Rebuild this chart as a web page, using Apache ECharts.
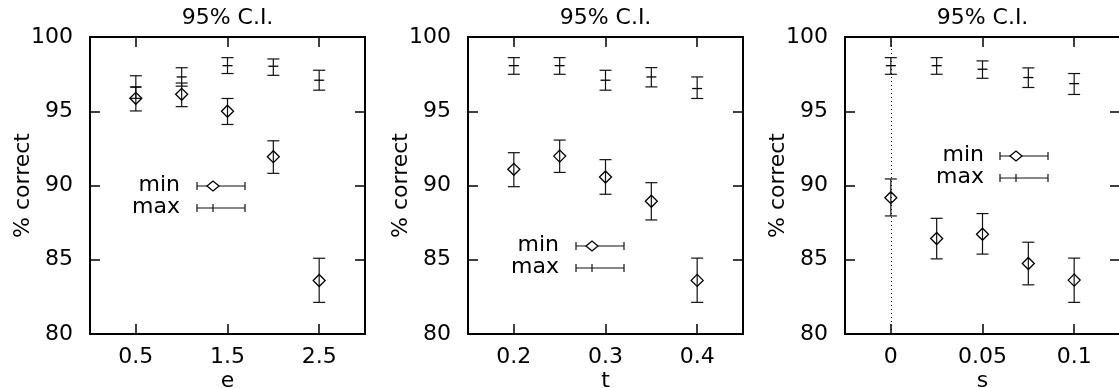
<!DOCTYPE html>
<html>
<head>
<meta charset="utf-8">
<script src="https://cdn.jsdelivr.net/npm/echarts@6/dist/echarts.min.js"></script>
<style>
html,body{margin:0;padding:0;background:#fff;}
#c{width:1119px;height:388px;}
</style>
</head>
<body>
<div id="c"></div>
<script>
// ---------- data ----------
const titleText = '95% C.I.';
const yName = '% correct';
const yTicks = [80, 85, 90, 95, 100];

// panel 1 : e
const eX = [0.5, 1.0, 1.5, 2.0, 2.5];
const eTicks = [0.5, 1.5, 2.5];
const eMinVal = [95.87, 96.14, 95.0, 91.94, 83.6];
const eMinLo  = [95.02, 95.31, 94.11, 90.82, 82.13];
const eMinHi  = [96.63, 96.90, 95.86, 93.01, 85.10];
const eMaxVal = [96.63, 97.31, 98.07, 98.03, 97.09];
const eMaxLo  = [95.87, 96.69, 97.54, 97.42, 96.42];
const eMaxHi  = [97.39, 97.93, 98.61, 98.52, 97.76];

// panel 2 : t
const tX = [0.2, 0.25, 0.3, 0.35, 0.4];
const tTicks = [0.2, 0.3, 0.4];
const tMinVal = [91.09, 91.98, 90.57, 88.94, 83.61];
const tMinLo  = [89.92, 90.88, 89.41, 87.68, 82.13];
const tMinHi  = [92.21, 93.06, 91.74, 90.19, 85.11];
const tMaxVal = [98.07, 98.07, 97.09, 97.31, 96.53];
const tMaxLo  = [97.49, 97.49, 96.42, 96.64, 95.86];
const tMaxHi  = [98.61, 98.61, 97.76, 97.94, 97.31];

// panel 3 : s
const sX = [0, 0.025, 0.05, 0.075, 0.1];
const sTicks = [0, 0.05, 0.1];
const sMinVal = [89.18, 86.43, 86.72, 84.75, 83.63];
const sMinLo  = [87.95, 85.06, 85.38, 83.31, 82.13];
const sMinHi  = [90.44, 87.79, 88.11, 86.18, 85.11];
const sMaxVal = [98.07, 98.07, 97.83, 97.27, 96.86];
const sMaxLo  = [97.49, 97.49, 97.22, 96.60, 96.13];
const sMaxHi  = [98.61, 98.61, 98.39, 97.92, 97.54];

// ---------- layout ----------
const FONT = 'DejaVu Sans';
const FS = 22;
const panels = [
  {name:'e', x:eX, ticks:eTicks, min:0, max:3,
   mn:[eMinVal,eMinLo,eMinHi], mx:[eMaxVal,eMaxLo,eMaxHi],
   left:90, key:{tx:90, lx:107, ty:149}, zero:false},
  {name:'t', x:tX, ticks:tTicks, min:0.15, max:0.45,
   mn:[tMinVal,tMinLo,tMinHi], mx:[tMaxVal,tMaxLo,tMaxHi],
   left:468, key:{tx:91, lx:108, ty:209}, zero:false},
  {name:'s', x:sX, ticks:sTicks, min:-0.025, max:0.125,
   mn:[sMinVal,sMinLo,sMinHi], mx:[sMaxVal,sMaxLo,sMaxHi],
   left:845, key:{tx:139, lx:155, ty:119}, zero:true}
];
const TOP = 37, W = 275, H = 297;
const INK = '#000';

function fmt(v){ return String(+v.toFixed(3)); }

function errRender(kind){
  return function(params, api){
    const x = api.value(0), y = api.value(1), lo = api.value(2), hi = api.value(3);
    const p = api.coord([x, y]);
    const pl = api.coord([x, lo]);
    const ph = api.coord([x, hi]);
    const cw = 6;
    const st = {stroke: '#111', lineWidth: 1.2, fill: null};
    const ch = [
      {type:'line', shape:{x1:pl[0], y1:pl[1], x2:ph[0], y2:ph[1]}, style:st},
      {type:'line', shape:{x1:pl[0]-cw, y1:pl[1], x2:pl[0]+cw, y2:pl[1]}, style:st},
      {type:'line', shape:{x1:ph[0]-cw, y1:ph[1], x2:ph[0]+cw, y2:ph[1]}, style:st}
    ];
    if (kind === 'min') {
      const d = 6;
      ch.push({type:'polygon', shape:{points:[[p[0]-d,p[1]],[p[0],p[1]-d],[p[0]+d,p[1]],[p[0],p[1]+d]]},
        style:{stroke:'#000', lineWidth:1.3, fill:null}});
    } else {
      ch.push({type:'line', shape:{x1:p[0]-5, y1:p[1], x2:p[0]+5, y2:p[1]}, style:{stroke:'#000', lineWidth:1.3}});
    }
    return {type:'group', children: ch};
  };
}

const grid = [], xAxis = [], yAxis = [], series = [], title = [], graphic = [];
panels.forEach((pn, i) => {
  grid.push({left: pn.left, top: TOP, width: W, height: H, show: true,
             outerBoundsMode: 'none', containLabel: false,
             borderColor: INK, borderWidth: 2, backgroundColor: 'transparent'});
  title.push({text: titleText, left: pn.left + W/2, top: 7, padding: 0, textAlign: 'center',
              textStyle: {fontFamily: FONT, fontSize: FS, fontWeight: 'normal', color: INK}});
  const tickStyle = {show: true, inside: true, length: 10, lineStyle: {color: INK, width: 1.5}};
  const noLine = {show:false, onZero:false};
  xAxis.push({type:'value', gridIndex:i, position:'bottom', min:pn.min, max:pn.max,
    name: pn.name, nameLocation:'middle', nameGap: 36, nameMoveOverlap: false,
    nameTextStyle:{fontFamily:FONT, fontSize:FS, color:INK},
    axisLine:noLine, splitLine:{show:false},
    axisTick:Object.assign({customValues: pn.ticks}, tickStyle),
    axisLabel:{customValues: pn.ticks, formatter: fmt, margin: 12,
               fontFamily:FONT, fontSize:FS, color:INK}});
  xAxis.push({type:'value', gridIndex:i, position:'top', min:pn.min, max:pn.max,
    axisLine:noLine, splitLine:{show:false},
    axisTick:Object.assign({customValues: pn.ticks}, tickStyle),
    axisLabel:{show:false}});
  yAxis.push({type:'value', gridIndex:i, position:'left', min:80, max:100, interval:5,
    name: yName, nameLocation:'middle', nameGap: 56, nameRotate: 90, nameMoveOverlap: false,
    nameTextStyle:{fontFamily:FONT, fontSize:FS, color:INK},
    axisLine:noLine, splitLine:{show:false},
    axisTick: tickStyle,
    axisLabel:{margin: 17, fontFamily:FONT, fontSize:FS, color:INK}});
  yAxis.push({type:'value', gridIndex:i, position:'right', min:80, max:100, interval:5,
    axisLine:noLine, splitLine:{show:false},
    axisTick: tickStyle, axisLabel:{show:false}});

  const minData = pn.x.map((x, k) => [x, pn.mn[0][k], pn.mn[1][k], pn.mn[2][k]]);
  const maxData = pn.x.map((x, k) => [x, pn.mx[0][k], pn.mx[1][k], pn.mx[2][k]]);
  const minSeries = {type:'custom', name:'min', xAxisIndex: 2*i, yAxisIndex: 2*i,
    renderItem: errRender('min'), data: minData, encode:{x:0, y:[1,2,3]}, silent:true, z:3};
  if (pn.zero) {
    minSeries.markLine = {silent:true, symbol:['none','none'], label:{show:false},
      lineStyle:{type:[1,3], color:'#000', width:1}, data:[{xAxis:0}]};
  }
  series.push(minSeries);
  series.push({type:'custom', name:'max', xAxisIndex: 2*i, yAxisIndex: 2*i,
    renderItem: errRender('max'), data: maxData, encode:{x:0, y:[1,2,3]}, silent:true, z:3});

  // key (legend) drawn like gnuplot's
  const L = pn.left + pn.key.lx, R = L + 48, M = L + 16;
  const rows = [{label:'min', y: TOP + pn.key.ty}, {label:'max', y: TOP + pn.key.ty + 22}];
  rows.forEach((r, j) => {
    graphic.push({type:'text', x: pn.left + pn.key.tx, y: r.y - 1,
      style:{text: r.label, fontFamily: FONT, fontSize: FS, fill: INK,
             align:'right', verticalAlign:'middle'}});
    const ls = {stroke:'#111', lineWidth:1.2};
    graphic.push({type:'line', shape:{x1:L, y1:r.y, x2:R, y2:r.y}, style:ls});
    graphic.push({type:'line', shape:{x1:L, y1:r.y-4, x2:L, y2:r.y+4}, style:ls});
    graphic.push({type:'line', shape:{x1:R, y1:r.y-4, x2:R, y2:r.y+4}, style:ls});
    if (j === 0) {
      const d = 6;
      graphic.push({type:'polygon', shape:{points:[[M-d,r.y],[M,r.y-d+1],[M+d,r.y],[M,r.y+d-1]]},
        style:{stroke:'#000', lineWidth:1.3, fill:'#fff'}, z:10});
    } else {
      graphic.push({type:'line', shape:{x1:M, y1:r.y-4, x2:M, y2:r.y+4}, style:ls});
    }
  });
});

const chart = echarts.init(document.getElementById('c'), null, {renderer:'canvas'});
chart.setOption({
  backgroundColor: '#fff',
  animation: false,
  title, grid, xAxis, yAxis, series, graphic
});
</script>
</body>
</html>
